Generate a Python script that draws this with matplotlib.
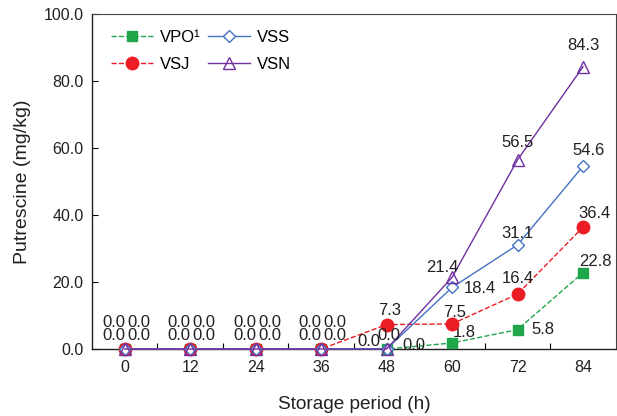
import matplotlib
matplotlib.use("Agg")
import matplotlib.pyplot as plt
import numpy as np

plt.rcParams["font.family"] = ["Liberation Sans", "DejaVu Sans"]

# Putrescine content over storage time
hours = ["0", "12", "24", "36", "48", "60", "72", "84"]
vpo = [0.0, 0.0, 0.0, 0.0, 0.0, 1.8, 5.8, 22.8]
vsj = [0.0, 0.0, 0.0, 0.0, 7.3, 7.5, 16.4, 36.4]
vss = [0.0, 0.0, 0.0, 0.0, 0.0, 18.4, 31.1, 54.6]
vsn = [0.0, 0.0, 0.0, 0.0, 0.0, 21.4, 56.5, 84.3]

# label offsets (points) for each series / point
off_vpo = [(-8, 4), (-8, 4), (-8, 4), (-8, 4), (20, -3), (9, 2), (18, -5.5), (9, 2.5)]
off_vsj = [(-8, 14), (-8, 14), (-8, 14), (-8, 14), (2, 4.5), (2, 3), (0, 6), (8, 4.5)]
off_vss = [(10, 4), (10, 4), (10, 4), (10, 4), (-13, 0), (20, -6), (0, 3), (4, 6)]
off_vsn = [(10, 14), (10, 14), (10, 14), (10, 14), (2, 4), (-7, 2), (0, 7), (0, 10)]

x = np.arange(len(hours))

fig = plt.figure(figsize=(6.17, 4.16), dpi=100)
ax = fig.add_axes([0.149, 0.161, 0.849, 0.805])

styles = [
    ("VPO\u00b9", vpo, off_vpo, dict(color="#1fa64a", ls="--", marker="s", ms=7.5, mfc="#1fa64a", mec="#1fa64a")),
    ("VSJ", vsj, off_vsj, dict(color="#ec1c24", ls="--", marker="o", ms=9, mfc="#ec1c24", mec="#ec1c24")),
    ("VSS", vss, off_vss, dict(color="#4472c4", ls="-", marker="D", ms=6.5, mfc="white", mec="#4472c4")),
    ("VSN", vsn, off_vsn, dict(color="#7030a0", ls="-", marker="^", ms=8, mfc="none", mec="#7030a0")),
]

for name, vals, offs, kw in styles:
    ax.plot(x, vals, lw=1.0, label=name, clip_on=False, zorder=3, **kw)
    for xi, v, o in zip(x, vals, offs):
        ax.annotate(f"{v:.1f}", (xi, v), xytext=o, textcoords="offset points",
                    ha="center", va="bottom", fontsize=12, color="#231f20")

ax.set_xlim(-0.5, len(hours) - 0.5)
ax.set_ylim(0, 100)
ax.set_yticks(np.arange(0, 101, 20))
ax.set_yticklabels([f"{t:.1f}" for t in np.arange(0, 101, 20)])

# category axis: labels at centers, ticks between categories
ax.set_xticks(x)
ax.set_xticklabels(hours)
ax.set_xticks(np.arange(0.5, len(hours) - 0.5, 1), minor=True)
ax.tick_params(axis="x", which="major", length=0, pad=8)
ax.tick_params(axis="x", which="minor", direction="in", length=4, width=0.8)
ax.tick_params(axis="y", direction="in", length=4, width=0.8, pad=6)
ax.tick_params(labelsize=11.5, labelcolor="#231f20")

for s in ["top", "right"]:
    ax.spines[s].set_color("#444444")
    ax.spines[s].set_linewidth(0.8)
for s in ["left", "bottom"]:
    ax.spines[s].set_color("#231f20")
    ax.spines[s].set_linewidth(1.0)

ax.set_xlabel("Storage period (h)", fontsize=13.7, color="#231f20", labelpad=15)
ax.set_ylabel("Putrescine (mg/kg)", fontsize=14, color="#231f20", labelpad=9)

handles, labels = ax.get_legend_handles_labels()
ax.legend(handles, labels, ncol=2, loc="upper left", bbox_to_anchor=(0.008, 0.998),
          frameon=False, fontsize=12, handlelength=2.5, columnspacing=0.5,
          handletextpad=0.4, labelspacing=0.75, borderaxespad=0.5)

fig.savefig("out.png", dpi=100)
